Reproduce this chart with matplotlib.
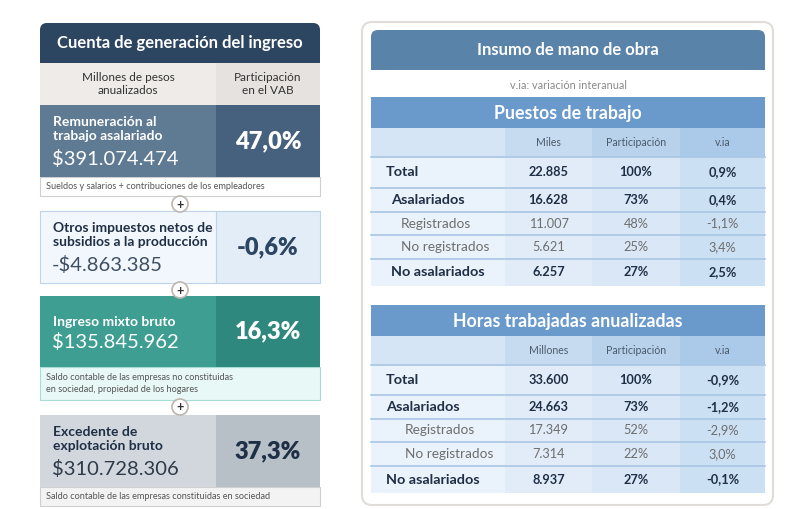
import matplotlib
matplotlib.use("Agg")
import matplotlib.pyplot as plt
from matplotlib.patches import Rectangle, FancyBboxPatch, Circle

plt.rcParams['font.family'] = ['Lato', 'DejaVu Sans']

# ---- data ----
concepts = ["Remuneración al\ntrabajo asalariado",
            "Otros impuestos netos de\nsubsidios a la producción",
            "Ingreso mixto bruto",
            "Excedente de\nexplotación bruto"]
amounts = [391074474, -4863385, 135845962, 310728306]   # millones de pesos
shares = [47.0, -0.6, 16.3, 37.3]                       # % del VAB
notes = ["Sueldos y salarios + contribuciones de los empleadores",
         None,
         "Saldo contable de las empresas no constituidas\nen sociedad, propiedad de los hogares",
         "Saldo contable de las empresas constituidas en sociedad"]

row_labels = ["Total", "Asalariados", "Registrados", "No registrados", "No asalariados"]
puestos_miles = [22885, 16628, 11007, 5621, 6257]
puestos_part = [100, 73, 48, 25, 27]
puestos_via = [0.9, 0.4, -1.1, 3.4, 2.5]
horas_millones = [33600, 24663, 17349, 7314, 8937]
horas_part = [100, 73, 52, 22, 27]
horas_via = [-0.9, -1.2, -2.9, 3.0, -0.1]


def miles(v):
    return f"{v:,}".replace(",", ".")


def pct(v, dec=1):
    return f"{v:.{dec}f}%".replace(".", ",")


def money(v):
    s = "$" + miles(abs(v))
    return "-" + s if v < 0 else s


fig = plt.figure(figsize=(8, 5.09), dpi=100)
ax = fig.add_axes([0, 0, 1, 1])
ax.set_xlim(0, 800)
ax.set_ylim(509, 0)
ax.axis("off")

NAVY = "#2c4560"
DARK = "#1f2f45"


def rect(x0, y0, x1, y1, fc, ec="none", lw=0, z=1):
    ax.add_patch(Rectangle((x0, y0), x1 - x0, y1 - y0, fc=fc, ec=ec, lw=lw, zorder=z))


def rrect(x0, y0, x1, y1, fc, ec="none", lw=0, r=7, z=1):
    ax.add_patch(FancyBboxPatch((x0, y0), x1 - x0, y1 - y0,
                                boxstyle=f"round,pad=0,rounding_size={r}",
                                fc=fc, ec=ec, lw=lw, zorder=z))


# ================= left panel =================
L0, LM, L1 = 40, 216, 320
rrect(L0, 23, L1, 63, NAVY, r=7)
rect(L0, 45, L1, 63, NAVY)
ax.text((L0 + L1) / 2, 43, "Cuenta de generación del ingreso", color="white",
        fontsize=12, fontweight="bold", ha="center", va="center", zorder=5)
rect(L0, 63, LM, 105, "#eeebe8")
rect(LM, 63, L1, 105, "#e6e2df")
ax.text((L0 + LM) / 2, 84, "Millones de pesos\nanualizados", color="#333333",
        fontsize=8.5, ha="center", va="center", linespacing=1.2, zorder=5)
ax.text((LM + L1) / 2, 84, "Participación\nen el VAB", color="#333333",
        fontsize=8.5, ha="center", va="center", linespacing=1.2, zorder=5)

blocks = [
    dict(y=(105, 177), lc="#5f7a93", rc="#46617d", ec="none", tc="white", vc="white",
         pc="white", note=(177, 196), nfc="#ffffff", nec="#cfcfcf", plus=204),
    dict(y=(211, 283), lc="#f2f7fd", rc="#e3edf8", ec="#bcd3ea", tc=DARK, vc="#3d4f63",
         pc=NAVY, note=None, plus=290),
    dict(y=(296, 367), lc="#3f9e92", rc="#2f887d", ec="none", tc="white", vc="white",
         pc="white", note=(367, 400), nfc="#e7f8f6", nec="#a6ded7", plus=407),
    dict(y=(415, 487), lc="#d2d7dd", rc="#b7bfc7", ec="none", tc=DARK, vc="#2e3a48",
         pc=DARK, note=(487, 506), nfc="#f3f3f3", nec="#cfcfcf", plus=None),
]

for b, label, amt, sh, nt in zip(blocks, concepts, amounts, shares, notes):
    y0, y1 = b["y"]
    if b["note"] is not None and nt is not None:
        ny0, ny1 = b["note"]
        rect(L0, ny0, L1, ny1, b["nfc"], ec=b["nec"], lw=0.8)
        ax.text(L0 + 6, (ny0 + ny1) / 2, nt, color="#555555", fontsize=6.6,
                ha="left", va="center", linespacing=1.3, zorder=5)
    rect(L0, y0, LM, y1, b["lc"], ec=b["ec"], lw=0.8)
    rect(LM, y0, L1, y1, b["rc"], ec=b["ec"], lw=0.8)
    two = "\n" in label
    ly = y0 + 24 if two else y0 + 26
    vy = y0 + 54 if two else y0 + 46
    ax.text(L0 + 13, ly, label, color=b["tc"], fontsize=10, fontweight="bold",
            ha="left", va="center", linespacing=1.3, zorder=5)
    ax.text(L0 + 12, vy, money(amt), color=b["vc"], fontsize=14.5,
            fontweight="normal", ha="left", va="center", zorder=5)
    ax.text((LM + L1) / 2, (y0 + y1) / 2, pct(sh), color=b["pc"], fontsize=17,
            fontweight="heavy", ha="center", va="center", zorder=5)
    if b["plus"] is not None:
        ax.add_patch(Circle((180, b["plus"]), 8, fc="white", ec="#bdb6b0", lw=1.2, zorder=6))
        ax.text(180, b["plus"] + 0.5, "+", color="#333333", fontsize=9, fontweight="bold",
                ha="center", va="center", zorder=7)

# ================= right panel =================
rrect(362, 22, 773, 505, "white", ec="#e0ddd9", lw=1.5, r=10)
R0, R1 = 371, 765
rrect(R0, 30, R1, 70, "#5a83a9", r=7)
rect(R0, 50, R1, 70, "#5a83a9")
ax.text((R0 + R1) / 2, 50, "Insumo de mano de obra", color="white", fontsize=12,
        fontweight="bold", ha="center", va="center", zorder=5)
ax.text((R0 + R1) / 2, 85, "v.ia: variación interanual", color="#8a8a8a",
        fontsize=7.8, ha="center", va="center", zorder=5)

cols = [R0, 505, 592, 680, R1]
head_colors = ["#d5e5f5", "#c7dbf0", "#b9d2ec", "#abc9e8"]
body_colors = ["#eaf2fb", "#e1ecf8", "#d9e7f6", "#cce0f3"]
row_kind = ["bold", "bold", "sub", "sub", "bold"]


def table(title, top, unit, values, parts, vias, row_edges, label_x):
    rect(R0, top, R1, top + 31, "#6a9acb")
    ax.text((R0 + R1) / 2, top + 16, title, color="white", fontsize=12.8,
            fontweight="bold", ha="center", va="center", zorder=5)
    h0, h1 = top + 31, row_edges[0]
    for i in range(4):
        rect(cols[i], h0, cols[i + 1], h1, head_colors[i])
        rect(cols[i], h1, cols[i + 1], row_edges[-1], body_colors[i])
    hy = (h0 + h1) / 2
    for i, txt in enumerate([unit, "Participación", "v.ia"]):
        ax.text((cols[i + 1] + cols[i + 2]) / 2, hy, txt, color="#4a5a6a",
                fontsize=7.6, ha="center", va="center", zorder=5)
    ax.plot([R0, R1], [h1, h1], color="#a9c6e4", lw=1.2, zorder=4)
    for k in range(5):
        ya, yb = row_edges[k], row_edges[k + 1]
        yc = (ya + yb) / 2
        if k > 0:
            ax.plot([R0, R1], [ya, ya], color="#a9c6e4", lw=1.2, zorder=4)
        if row_kind[k] == "bold":
            kw = dict(color=DARK, fontweight="bold")
            fs = 10.4
        else:
            kw = dict(color="#6e6e6e", fontweight="normal")
            fs = 9.8
        ax.text(label_x[k], yc, row_labels[k], fontsize=fs, ha="left", va="center",
                zorder=5, **kw)
        ax.text((cols[1] + cols[2]) / 2, yc, miles(values[k]), fontsize=9.2,
                ha="center", va="center", zorder=5, **kw)
        ax.text((cols[2] + cols[3]) / 2, yc, f"{parts[k]}%", fontsize=9.2,
                ha="center", va="center", zorder=5, **kw)
        ax.text((cols[3] + cols[4]) / 2, yc, pct(vias[k]), fontsize=9.2,
                ha="center", va="center", zorder=5, **kw)


table("Puestos de trabajo", 97, "Miles", puestos_miles, puestos_part, puestos_via,
      [157, 188, 212, 235, 259, 286], [386, 391, 401, 401, 391])
table("Horas trabajadas anualizadas", 305, "Millones", horas_millones, horas_part, horas_via,
      [365, 395, 419, 442, 466, 493], [386, 386, 405, 405, 386])

fig.savefig("out.png", dpi=100, facecolor="white")
